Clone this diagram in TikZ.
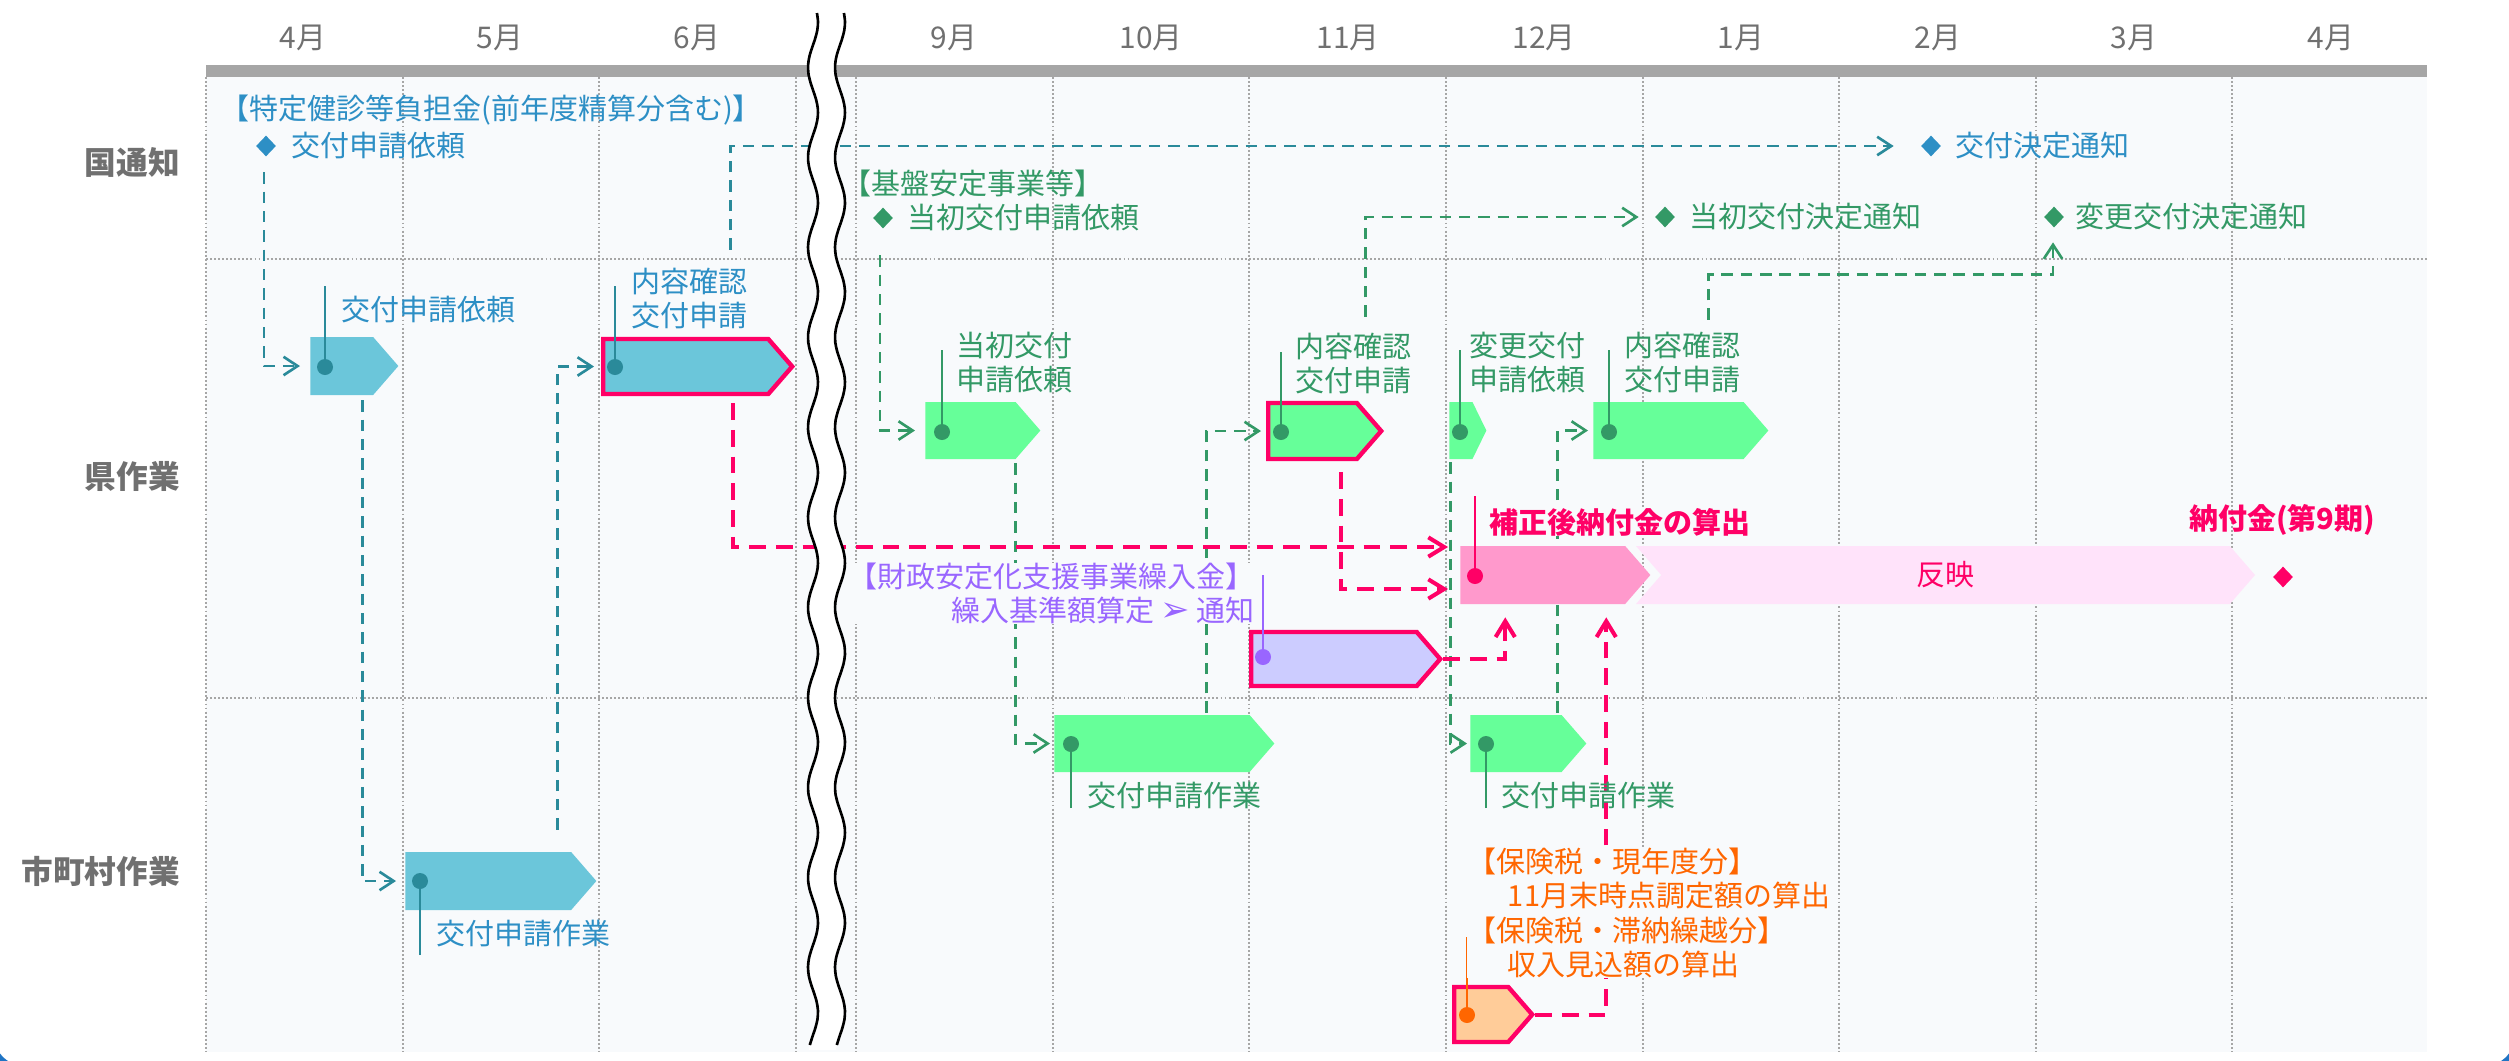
\documentclass[tikz,border=0pt]{standalone}
\usepackage{fontspec}
\setmainfont{Noto Sans CJK JP}
\newfontfamily\dingfont{DejaVu Sans}
\usetikzlibrary{calc}
\usetikzlibrary{arrows.meta}
\usetikzlibrary{shapes.symbols}
\usetikzlibrary{shapes.geometric}
\definecolor{gridgray}{HTML}{A6A6A6}
\definecolor{labelgray}{HTML}{707070}
\definecolor{chartbg}{HTML}{F8FAFC}
\definecolor{kuniblue}{HTML}{2D8FC5}
\definecolor{tealline}{HTML}{2A8A9A}
\definecolor{tealbar}{HTML}{6BC6DA}
\definecolor{greenline}{HTML}{339966}
\definecolor{greenbar}{HTML}{66FF99}
\definecolor{hotpink}{HTML}{FF0066}
\definecolor{pinkbar}{HTML}{FF99CC}
\definecolor{palepink}{HTML}{FFE3FA}
\definecolor{purpletxt}{HTML}{9966FF}
\definecolor{purplebar}{HTML}{CCCCFF}
\definecolor{orangetxt}{HTML}{FF6600}
\definecolor{orangebar}{HTML}{FFCC99}
\definecolor{frameblue}{HTML}{1F74C4}
\pgfdeclarelayer{chart}
\pgfdeclarelayer{links}
\pgfsetlayers{chart,links,main}

\begin{document}
\begin{tikzpicture}[x=0.2mm,y=-0.2mm,
        monthname/.style={text=labelgray,font=\fontsize{17}{20}\selectfont},
        rowname/.style={anchor=east,text=labelgray,font=\fontsize{18}{21}\selectfont\bfseries},
        tasklabel/.style={inner sep=0pt,align=left,font=\fontsize{16.5}{19.6}\selectfont},
        dia/.style={diamond,inner sep=0pt,minimum width=4mm,minimum height=4.2mm},
        taskbar/.style={signal,signal to=east,signal pointer angle=98,inner sep=0pt,anchor=west,minimum height=11.6mm},
        redrim/.style={draw=hotpink,line width=2.5pt,minimum height=11mm},
        gridline/.style={gridgray,line width=1.1pt,dash pattern=on 1.1pt off 1.2pt},
        stick/.style={line width=1.25pt},
        tealarr/.style={tealline,line width=1.5pt,dash pattern=on 6.5pt off 4.5pt,-{Straight Barb[length=8pt,width=10.5pt]}},
        greenarr/.style={greenline,line width=1.5pt,dash pattern=on 6.5pt off 4.5pt,-{Straight Barb[length=8pt,width=10.5pt]}},
        pinkarr/.style={hotpink,line width=2.3pt,dash pattern=on 9.5pt off 5.7pt,-{Straight Barb[length=9pt,width=11pt]}}]
        \useasboundingbox (0,0) rectangle (2509,1060);
        \begin{pgfonlayer}{chart}
            \fill[chartbg] (206,77) rectangle (2427,1052);
            \fill[gridgray] (206,65) rectangle (2427,77);
            \foreach \x in {206,403,599,796,856,1053,1249,1446,1643,1839,2036,2232}
                \draw[gridline] (\x,77) -- (\x,1052);
            \foreach \y in {259,698}
                \draw[gridline] (206,\y) -- (2427,\y);
        \end{pgfonlayer}
        \foreach \x/\m in {303/4月,500/5月,697/6月,954/9月,1151/10月,1348/11月,1544/12月,1741/1月,1938/2月,2134/3月,2331/4月}
            \node[monthname] (m\x) at (\x,38) {\m};
        \node[rowname] (kuni) at (186,162) {国通知};
        \node[rowname] (ken) at (186,476) {県作業};
        \node[rowname] (shi) at (186,871) {市町村作業};

        \node[tasklabel,text=kuniblue,anchor=west] (kunihead) at (220,110) {【特定健診等負担金(前年度精算分含む)】};
        \node[dia,fill=kuniblue] (kuniA) at (266,146) {};
        \node[tasklabel,text=kuniblue,anchor=west] (kuniAtxt) at (291,146) {交付申請依頼};
        \node[dia,fill=kuniblue] (kuniB) at (1931,146) {};
        \node[tasklabel,text=kuniblue,anchor=west] (kuniBtxt) at (1955,146) {交付決定通知};
        \node[tasklabel,text=greenline,anchor=west] (kenhead) at (842,183) {【基盤安定事業等】};
        \node[dia,fill=greenline] (kuniC) at (883,218) {};
        \node[tasklabel,text=greenline,anchor=west] (kuniCtxt) at (907,218) {当初交付申請依頼};
        \node[dia,fill=greenline] (kuniD) at (1665,217) {};
        \node[tasklabel,text=greenline,anchor=west] (kuniDtxt) at (1689,217) {当初交付決定通知};
        \node[dia,fill=greenline] (kuniE) at (2054,217) {};
        \node[tasklabel,text=greenline,anchor=west] (kuniEtxt) at (2075,217) {変更交付決定通知};

        \node[taskbar,fill=tealbar,minimum width=17.6mm] (kenA) at (310,366) {};
        \node[taskbar,redrim,fill=tealbar,minimum width=37.8mm] (kenB) at (601,366.5) {};
        \node[taskbar,fill=tealbar,minimum width=38.2mm] (shiA) at (405,881) {};
        \node[taskbar,fill=greenbar,minimum width=23mm,minimum height=11.4mm] (kenC) at (925,430.5) {};
        \node[taskbar,fill=greenbar,minimum width=44mm,minimum height=11.4mm] (shiB) at (1054,743.5) {};
        \node[taskbar,redrim,fill=greenbar,minimum width=22.6mm,minimum height=11.2mm] (kenD) at (1266,431) {};
        \node[taskbar,fill=greenbar,minimum width=7.4mm,minimum height=11.4mm,signal pointer angle=128] (kenE) at (1449,430.5) {};
        \node[taskbar,fill=greenbar,minimum width=23.2mm,minimum height=11.4mm] (shiC) at (1470,743.5) {};
        \node[taskbar,fill=greenbar,minimum width=35mm,minimum height=11.4mm] (kenF) at (1593,430.5) {};
        \node[taskbar,fill=pinkbar,minimum width=38mm] (kenG) at (1460,575) {};
        \node[taskbar,fill=palepink,signal from=west,minimum width=123.8mm,anchor=center,text=hotpink,font=\fontsize{16.5}{19.6}\selectfont] (kenH) at (1945.5,575) {反映};
        \node[taskbar,redrim,fill=purplebar,minimum width=37.8mm,minimum height=10.8mm] (kenI) at (1249,659) {};
        \node[taskbar,redrim,fill=orangebar,minimum width=15.6mm] (shiD) at (1452,1014.5) {};
        \node[dia,fill=hotpink] (nofu) at (2283,577) {};

        \foreach \x/\ya/\yb/\c in {325/286/367/tealline,615/286/367/tealline,420/955/881/tealline,
                942/350/432/greenline,1071/808/744/greenline,1281/352/432/greenline,1460/350/432/greenline,
                1486/808/744/greenline,1609/350/432/greenline,1475/496/576/hotpink,1263/575/657/purpletxt,1467/937/1015/orangetxt}
            {
            \draw[stick,\c] (\x,\ya) -- (\x,\yb);
            \fill[\c] (\x,\yb) circle[radius=1.6mm];
            }

        \node[tasklabel,text=kuniblue,anchor=west] (kenAtxt) at (341,310) {交付申請依頼};
        \node[tasklabel,text=kuniblue,anchor=west] (kenBtxt) at (631,298.5) {内容確認\\交付申請};
        \node[tasklabel,text=kuniblue,anchor=west] (shiAtxt) at (436,934) {交付申請作業};
        \node[tasklabel,text=greenline,anchor=west] (kenCtxt) at (956,362.5) {当初交付\\申請依頼};
        \node[tasklabel,text=greenline,anchor=west] (shiBtxt) at (1087,796) {交付申請作業};
        \node[tasklabel,text=greenline,anchor=west] (kenDtxt) at (1295,363.5) {内容確認\\交付申請};
        \node[tasklabel,text=greenline,anchor=west] (kenEtxt) at (1469,362.5) {変更交付\\申請依頼};
        \node[tasklabel,text=greenline,anchor=west] (shiCtxt) at (1501,796) {交付申請作業};
        \node[tasklabel,text=greenline,anchor=west] (kenFtxt) at (1624,362.5) {内容確認\\交付申請};
        \node[tasklabel,text=hotpink,anchor=west,fill=chartbg,font=\fontsize{16.5}{19.6}\selectfont\bfseries] (kenGtxt) at (1489,522) {補正後納付金の算出};
        \node[tasklabel,text=hotpink,font=\fontsize{16.5}{19.6}\selectfont\bfseries] (nofutxt) at (2282,520) {納付金(第9期)};
        \node[tasklabel,text=purpletxt,anchor=east,align=right,fill=chartbg] (kenItxt) at (1255,593.5) {【財政安定化支援事業繰入金】\\繰入基準額算定 {\dingfont\fontsize{20}{20}\selectfont ➢} 通知};
        \node[tasklabel,text=orangetxt,anchor=west,fill=chartbg] (shiDtxt) at (1467,913) {【保険税・現年度分】\\\hspace*{1.4em}11月末時点調定額の算出\\【保険税・滞納繰越分】\\\hspace*{1.4em}収入見込額の算出};

        \begin{pgfonlayer}{links}
            \draw[tealarr] ($(kuniA.south)+(-2,15.5)$) |- ($(kenA.west)+(-10,0)$);
            \draw[tealarr] ($(kenA.south)+(20.5,5)$) |- ($(shiA.west)+(-9,0)$);
            \draw[tealarr] ($(shiA.north)+(69,-22)$) |- ($(kenB.west)+(-7,0)$);
            \draw[tealarr] ($(kenB.north)+(45,-87)$) |- ($(kuniB.west)+(-27,0)$);
            \draw[greenarr] ($(kuniC.south)+(-3,26.5)$) |- ($(kenC.west)+(-10,0)$);
            \draw[greenarr] ($(kenC.south)+(45,4)$) |- ($(shiB.west)+(-4,0)$);
            \draw[greenarr] ($(shiB.north)+(54.5,-2)$) |- ($(kenD.west)+(-5,0)$);
            \draw[greenarr] ($(kenD.north)+(53,-84)$) |- ($(kuniD.west)+(-16,0)$);
            \draw[greenarr] ($(kenE.south)+(-10.5,3)$) |- ($(shiC.west)+(-3,0)$);
            \draw[greenarr] ($(shiC.north)+(41.5,-2)$) |- ($(kenF.west)+(-5,0)$);
            \draw[greenarr] ($(kenF.north)+(40,-82)$) -- ++(0,-45) -| ($(kuniE.south)+(-1,14.5)$);
            \draw[pinkarr] ($(kenB.south)+(47,7)$) |- ($(kenG.west)+(-12,-28)$);
            \draw[pinkarr] ($(kenD.south)+(28,11)$) |- ($(kenG.west)+(-12,14)$);
            \draw[pinkarr] (kenI.east) -| ($(kenG.south)+(-37.5,13)$);
            \draw[pinkarr] (shiD.east) -| ($(kenG.south)+(63.5,13)$);
        \end{pgfonlayer}

        \fill[white] plot[variable=\t,domain=13:1050,samples=120] ({813+5*sin(4*\t)},\t)
            -- plot[variable=\t,domain=1050:13,samples=120] ({840+5*sin(4*\t)},\t) -- cycle;
        \draw[line width=1.5pt] plot[variable=\t,domain=13:1045,samples=120,smooth] ({813+5*sin(4*\t)},\t);
        \draw[line width=1.5pt] plot[variable=\t,domain=13:1045,samples=120,smooth] ({840+5*sin(4*\t)},\t);
        \begin{scope}
            \clip (0,0) rectangle (2509,1060);
            \draw[frameblue,line width=3.5pt,rounded corners=6mm] (-8,-200) rectangle (2517,1068);
        \end{scope}
\end{tikzpicture}
\end{document}
